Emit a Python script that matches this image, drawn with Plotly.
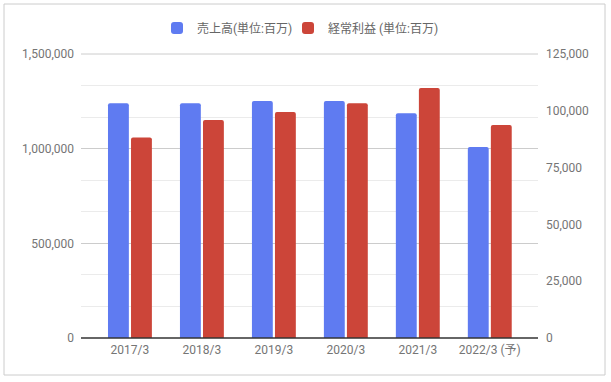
import plotly.graph_objects as go

categories = ["2017/3", "2018/3", "2019/3", "2020/3", "2021/3", "2022/3 (予)"]
sales = [1240000, 1240000, 1252000, 1252000, 1187000, 1009000]
ordinary_profit = [88300, 95900, 99500, 103300, 110000, 93700]
sales_name = "売上高(単位:百万)"
profit_name = "経常利益 (単位:百万)"
left_ticks = [0, 500000, 1000000, 1500000]
right_ticks = [0, 25000, 50000, 75000, 100000, 125000]

W, H = 611, 382
L, R, T, B = 81, 538, 54, 338
pw, ph = R - L, B - T

blue = "#5F7BF1"
red = "#CC4539"
font_fam = "Roboto, 'Noto Sans CJK JP', sans-serif"

fig = go.Figure()
fig.add_trace(go.Bar(
    x=categories, y=sales, name=sales_name, marker_color=blue,
    width=0.29, offset=-0.305, yaxis="y", marker_line_width=0, legend="legend",
))
fig.add_trace(go.Bar(
    x=categories, y=ordinary_profit, name=profit_name, marker_color=red,
    width=0.29, offset=0.015, yaxis="y2", marker_line_width=0, legend="legend2",
))

def px_x(x):
    return (x - L) / pw

def px_y(y):
    return (B - y) / ph

legend_common = dict(
    orientation="h", xanchor="left", y=px_y(28), yanchor="middle",
    font=dict(size=12, color="#666666"), bgcolor="rgba(0,0,0,0)",
)

fig.update_layout(
    width=W, height=H,
    margin=dict(l=L, r=W - R, t=T, b=H - B, pad=0),
    paper_bgcolor="white", plot_bgcolor="white",
    font=dict(family=font_fam, size=12, color="#757575"),
    barcornerradius=2,
    showlegend=True,
    legend=dict(x=px_x(157), **legend_common),
    legend2=dict(x=px_x(288), **legend_common),
    xaxis=dict(
        type="category", range=[-0.68, 5.67], showgrid=False, ticks="",
        showline=False, zeroline=False, tickfont=dict(size=12, color="#757575"),
        fixedrange=True, ticklabelstandoff=3,
    ),
    yaxis=dict(
        range=[0, 1500000], tickvals=left_ticks, tickformat=",d",
        showgrid=True, gridcolor="#CCCCCC", gridwidth=1,
        minor=dict(dtick=500000 / 3, showgrid=True, gridcolor="#EBEBEB", gridwidth=1),
        zeroline=False, showline=False, ticks="", ticklabelstandoff=6,
        tickfont=dict(size=12, color="#757575"), fixedrange=True,
    ),
    yaxis2=dict(
        range=[0, 125000], tickvals=right_ticks, tickformat=",d",
        overlaying="y", side="right", showgrid=False, zeroline=False,
        showline=False, ticks="", ticklabelstandoff=7,
        tickfont=dict(size=12, color="#757575"), fixedrange=True,
    ),
    shapes=[
        dict(type="line", xref="paper", yref="paper", x0=0, x1=1, y0=1, y1=1,
             line=dict(color="#CCCCCC", width=1), layer="below"),
        dict(type="line", xref="paper", yref="paper", x0=0, x1=1, y0=0, y1=0,
             line=dict(color="#333333", width=1.5)),
        dict(type="rect", xref="paper", yref="paper",
             x0=px_x(4), x1=px_x(605), y0=px_y(375), y1=px_y(4),
             line=dict(color="#CCCCCC", width=1), fillcolor="rgba(0,0,0,0)",
             layer="below"),
    ],
)

fig.write_html(
    "out.html",
    config={"displayModeBar": False},
    post_script="document.body.style.margin='0px';document.body.style.overflow='hidden';",
)
